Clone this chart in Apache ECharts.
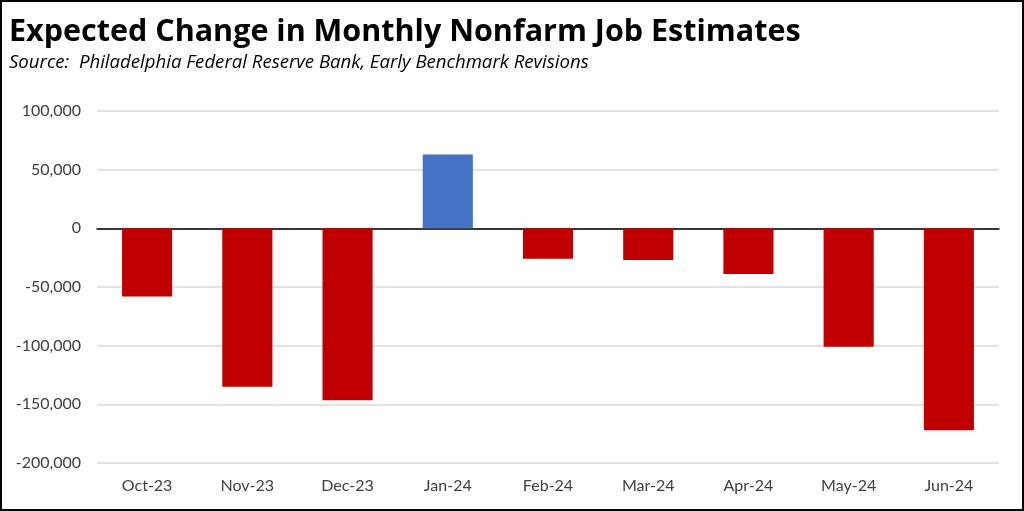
<!DOCTYPE html>
<html>
<head>
<meta charset="utf-8">
<script src="https://cdn.jsdelivr.net/npm/echarts@6/dist/echarts.min.js"></script>
<style>
html,body{margin:0;padding:0;background:#fff;}
#wrap{width:1024px;height:511px;box-sizing:border-box;border:2px solid #000;position:relative;overflow:hidden;}
#chart{position:absolute;left:-2px;top:-2px;width:1024px;height:511px;}
</style>
</head>
<body>
<div id="wrap"><div id="chart"></div></div>
<script>
const categories = ['Oct-23','Nov-23','Dec-23','Jan-24','Feb-24','Mar-24','Apr-24','May-24','Jun-24'];
const values = [-58000,-135000,-146500,63000,-26000,-27000,-39000,-101000,-172000];
const yTicks = {min:-200000, max:100000, interval:50000};

const chart = echarts.init(document.getElementById('chart'));
const fmt = v => v.toLocaleString('en-US');
chart.setOption({
  animation:false,
  title:[
    {text:'Expected Change in Monthly Nonfarm Job Estimates', left:9, top:17, padding:0,
     textStyle:{fontFamily:'Open Sans', fontWeight:'bold', fontSize:30.5, color:'#000'}},
    {text:'Source:  Philadelphia Federal Reserve Bank, Early Benchmark Revisions', left:9, top:53, padding:0,
     textStyle:{fontFamily:'Open Sans', fontStyle:'italic', fontWeight:'normal', fontSize:18.6, color:'#000'}}
  ],
  grid:{left:97, right:25, top:111, bottom:48, containLabel:false},
  xAxis:[
    {type:'category', data:categories,
     axisLine:{onZero:true, lineStyle:{color:'#000', width:1.5}},
     axisTick:{show:false}, axisLabel:{show:false}},
    {type:'category', data:categories, position:'bottom',
     axisLine:{show:false, onZero:false}, axisTick:{show:false},
     axisLabel:{fontFamily:'Lato', fontSize:16, color:'#404040', margin:15}}
  ],
  yAxis:{type:'value', min:yTicks.min, max:yTicks.max, interval:yTicks.interval,
    axisLine:{show:false}, axisTick:{show:false},
    splitLine:{lineStyle:{color:'#d9d9d9', width:1.5}},
    axisLabel:{fontFamily:'Lato', fontSize:16, color:'#404040', margin:16, formatter:fmt}
  },
  series:[{type:'bar', barWidth:'50%', xAxisIndex:0,
    data: values.map(v=>({value:v, itemStyle:{color: v>0 ? '#4472C4' : '#C00000'}}))
  }]
});
</script>
</body>
</html>
